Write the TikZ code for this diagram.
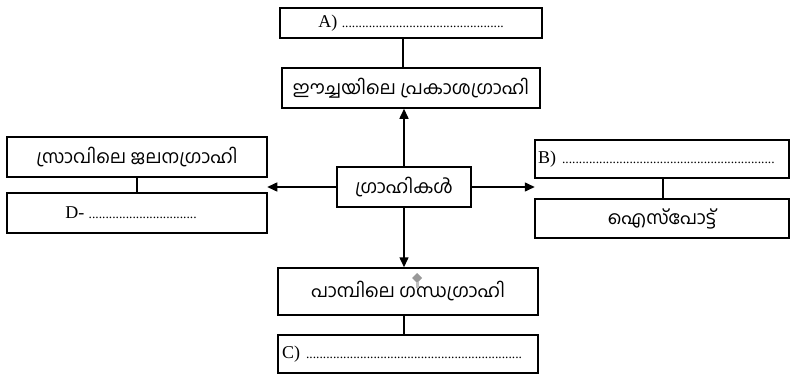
\documentclass[tikz,border=0pt]{standalone}
\usepackage{fontspec}
\setmainfont{Liberation Serif}
\newfontfamily\mlfont[Script=Malayalam]{Hind Kochi}
\usetikzlibrary{arrows.meta}
\newcommand{\dotrun}[1]{{\fontsize{13.5}{14}\selectfont\foreach \k in {1,...,#1}{.}}}
\begin{document}
\begin{tikzpicture}[x=1pt,y=-1pt,
  box/.style={draw,line width=1.5pt,minimum width=#1,inner sep=0pt,anchor=center},
  ml/.style={font=\mlfont\fontsize{18.5}{20}\selectfont},
  lt/.style={font=\fontsize{18}{20}\selectfont},
  conn/.style={line width=1.5pt},
  arr/.style={line width=1.5pt,-{Triangle[length=10pt,width=9pt]}}]
\useasboundingbox (0,0) rectangle (791,377);
\node[box=262pt,minimum height=30pt,lt] (A) at (411,23) {A) \dotrun{48}};
\node[box=258pt,minimum height=40pt,ml] (E) at (411,88) {ഈച്ചയിലെ പ്രകാശഗ്രാഹി};
\node[box=134pt,minimum height=40pt,ml] (G) at (404,187) {ഗ്രാഹികൾ};
\node[box=260pt,minimum height=40pt,ml] (S) at (137,157) {സ്രാവിലെ ജലനഗ്രാഹി};
\node[box=260pt,minimum height=40pt,lt] (D) at (137,213) {D- \dotrun{32}\hspace*{12pt}};
\node[box=254pt,minimum height=38pt,lt,text width=248pt,align=left] (B) at (662,159) {B) \dotrun{63}};
\node[box=254pt,minimum height=39pt,ml] (I) at (662,218.5) {ഐസ്പോട്ട്};
\node[box=260pt,minimum height=47pt,ml] (P) at (408,291.5) {പാമ്പിലെ ഗന്ധഗ്രാഹി};
\node[box=260pt,minimum height=38pt,lt,text width=252pt,align=left] (C) at (408,354) {C) \dotrun{64}};
\coordinate (xa) at (403,0);
\coordinate (xs) at (137,0);
\coordinate (xb) at (663,0);
\coordinate (xp) at (404,0);
\draw[conn] (A.south -| xa) -- (E.north -| xa);
\draw[conn] (S.south -| xs) -- (D.north -| xs);
\draw[conn] (B.south -| xb) -- (I.north -| xb);
\draw[conn] (P.south -| xp) -- (C.north -| xp);
\draw[arr] (G.north -| xp) -- (E.south -| xp);
\draw[arr] (G.south) -- (P.north -| G.south);
\draw[arr] (G.west) -- ++(-69,0) coordinate (lt);
\draw[arr] (G.east) -- ++(63,0) coordinate (rt);
\fill[gray!80] (417,273) -- (422,278) -- (417,283) -- (412,278) -- cycle;
\fill[gray!50] (415.5,282) rectangle (418.5,288);
\end{tikzpicture}
\end{document}
